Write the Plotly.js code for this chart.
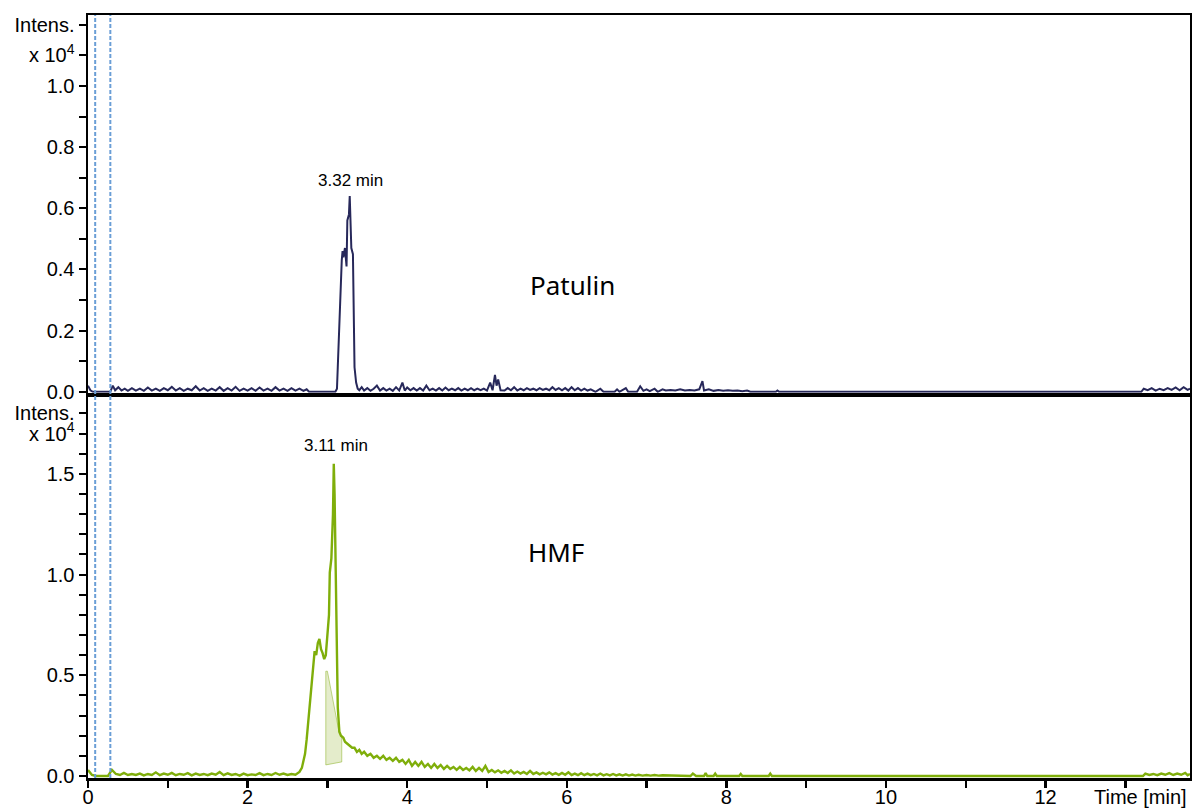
<!DOCTYPE html>
<html>
<head>
<meta charset="utf-8">
<script src="https://cdn.plot.ly/plotly-3.0.1.min.js"></script>
<style>html,body{margin:0;padding:0;background:#fff;}#chart{width:1192px;height:809px;}</style>
</head>
<body>
<div id="chart"></div>
<script>
// ---- Patulin trace (time [min], intensity x10^4) ----
const patulinBaseA = [[0,0.02],[0.03,0.005],[0.06,0],[0.28,0],[0.31,0.02],[0.34,0.005],[0.38,0.015],[0.42,0.004],[0.46,0.01],[0.5,0.003],[0.55,0.012],[0.6,0.004],[0.65,0.01],[0.7,0.003],[0.75,0.014],[0.8,0.004],[0.85,0.01],[0.9,0.003],[0.95,0.012],[1.0,0.005],[1.05,0.016],[1.1,0.004],[1.15,0.012],[1.2,0.003],[1.25,0.01],[1.3,0.005],[1.35,0.018],[1.4,0.004],[1.45,0.012],[1.5,0.003],[1.55,0.01],[1.6,0.004],[1.65,0.015],[1.7,0.003],[1.75,0.012],[1.8,0.004],[1.85,0.016],[1.9,0.003],[1.95,0.01],[2.0,0.004],[2.05,0.012],[2.1,0.003],[2.15,0.014],[2.2,0.004],[2.25,0.01],[2.3,0.003],[2.35,0.015],[2.4,0.004],[2.45,0.01],[2.5,0.003],[2.55,0.012],[2.6,0.004],[2.65,0.01],[2.7,0.003],[2.74,0.008],[2.77,0],[3.1,0]];
const patulinPeak = [[3.12,0.01],[3.13,0.08],[3.15,0.22],[3.16,0.32],[3.18,0.43],[3.19,0.46],[3.2,0.44],[3.22,0.47],[3.23,0.42],[3.24,0.41],[3.25,0.56],[3.27,0.58],[3.28,0.64],[3.29,0.58],[3.3,0.47],[3.32,0.45],[3.33,0.2],[3.34,0.08],[3.36,0.03],[3.38,0.01]];
const patulinBaseB = [[3.4,0.005],[3.43,0.015],[3.46,0.004],[3.5,0.012],[3.54,0.003],[3.58,0.01],[3.62,0.02],[3.66,0.004],[3.7,0.012],[3.74,0.004],[3.78,0.01],[3.82,0.003],[3.86,0.015],[3.9,0.004],[3.94,0.03],[3.97,0.004],[4.0,0.014],[4.04,0.005],[4.08,0.012],[4.12,0.004],[4.16,0.012],[4.2,0.004],[4.24,0.02],[4.28,0.005],[4.32,0.01],[4.36,0.004],[4.4,0.012],[4.44,0.004],[4.48,0.014],[4.52,0.005],[4.56,0.01],[4.6,0.005],[4.64,0.012],[4.68,0.004],[4.72,0.01],[4.76,0.005],[4.8,0.012],[4.84,0.005],[4.88,0.01],[4.92,0.005],[4.96,0.01],[5.0,0.004],[5.04,0.03],[5.07,0.005],[5.1,0.055],[5.12,0.02],[5.14,0.04],[5.17,0.005],[5.22,0.004],[5.26,0.012],[5.3,0.005],[5.34,0.015],[5.38,0.004],[5.42,0.01],[5.46,0.005],[5.5,0.012],[5.54,0.006],[5.58,0.01],[5.62,0.005],[5.66,0.012],[5.7,0.006],[5.74,0.01],[5.78,0.005],[5.82,0.015],[5.86,0.006],[5.9,0.012],[5.94,0.005],[5.98,0.012],[6.02,0.004],[6.06,0.015],[6.1,0.005],[6.14,0.012],[6.18,0.004],[6.22,0.01],[6.26,0.004],[6.3,0.008],[6.36,0],[6.42,0.01],[6.46,0],[6.6,0],[6.63,0.008],[6.66,0],[6.74,0.012],[6.77,0],[6.88,0],[6.92,0.018],[6.96,0.003],[7.0,0.008],[7.04,0.002],[7.1,0.01],[7.14,0],[7.2,0.008],[7.24,0.004],[7.3,0.006],[7.36,0.004],[7.42,0.008],[7.48,0.004],[7.54,0.006],[7.6,0.004],[7.66,0.008],[7.7,0.035],[7.72,0.004],[7.78,0.008],[7.84,0.003],[7.9,0.006],[7.96,0.003],[8.02,0.005],[8.08,0.003],[8.14,0.004],[8.2,0.002],[8.26,0.004],[8.3,0],[8.62,0],[8.64,0.004],[8.66,0],[13.2,0],[13.23,0.01],[13.28,0.005],[13.33,0.012],[13.38,0.004],[13.43,0.01],[13.48,0.005],[13.53,0.012],[13.58,0.006],[13.63,0.014],[13.68,0.005],[13.73,0.015],[13.78,0.006],[13.81,0.01]];

// ---- HMF trace (time [min], intensity x10^4) ----
const hmfBaseA = [[0,0.03],[0.05,0.005],[0.1,0],[0.25,0],[0.3,0.03],[0.35,0.01],[0.4,0.005],[0.45,0.015],[0.5,0.005],[0.55,0.01],[0.6,0.005],[0.65,0.012],[0.7,0.003],[0.75,0.01],[0.8,0.005],[0.85,0.018],[0.9,0.004],[0.95,0.012],[1.0,0.006],[1.05,0.015],[1.1,0.004],[1.15,0.01],[1.2,0.006],[1.25,0.014],[1.3,0.003],[1.35,0.012],[1.4,0.005],[1.45,0.01],[1.5,0.004],[1.55,0.012],[1.6,0.006],[1.65,0.02],[1.7,0.004],[1.75,0.013],[1.8,0.005],[1.85,0.01],[1.9,0.002],[1.95,0.012],[2.0,0.004],[2.05,0.008],[2.1,0.005],[2.15,0.014],[2.2,0.004],[2.25,0.01],[2.3,0.005],[2.35,0.015],[2.4,0.006],[2.45,0.012],[2.5,0.005],[2.55,0.01],[2.6,0.006]];
const hmfPeak = [[2.62,0.01],[2.65,0.02],[2.68,0.04],[2.7,0.07],[2.72,0.11],[2.74,0.18],[2.76,0.27],[2.78,0.37],[2.8,0.48],[2.82,0.57],[2.84,0.62],[2.86,0.6],[2.88,0.66],[2.9,0.68],[2.92,0.63],[2.94,0.61],[2.96,0.58],[2.98,0.6],[3.0,0.7],[3.02,0.8],[3.03,1.01],[3.05,1.08],[3.07,1.3],[3.08,1.55],[3.09,1.4],[3.1,1.08],[3.12,0.7],[3.13,0.34],[3.15,0.22],[3.17,0.2],[3.2,0.19],[3.22,0.17],[3.25,0.16],[3.28,0.15]];
const hmfTail = [[3.31,0.14],[3.34,0.14],[3.37,0.12],[3.4,0.13],[3.43,0.11],[3.46,0.12],[3.5,0.1],[3.54,0.11],[3.58,0.09],[3.62,0.1],[3.66,0.085],[3.7,0.1],[3.74,0.08],[3.78,0.09],[3.82,0.075],[3.86,0.09],[3.9,0.07],[3.94,0.08],[3.98,0.06],[4.02,0.08],[4.06,0.05],[4.1,0.07],[4.14,0.05],[4.18,0.07],[4.22,0.045],[4.26,0.06],[4.3,0.04],[4.34,0.06],[4.38,0.04],[4.42,0.055],[4.46,0.035],[4.5,0.05],[4.54,0.035],[4.58,0.045],[4.62,0.03],[4.66,0.045],[4.7,0.03],[4.74,0.04],[4.78,0.028],[4.82,0.045],[4.86,0.025],[4.9,0.04],[4.94,0.025],[4.98,0.05],[5.02,0.02],[5.06,0.03],[5.1,0.018],[5.14,0.028],[5.18,0.016],[5.22,0.025],[5.26,0.015],[5.3,0.028],[5.34,0.012],[5.38,0.022],[5.42,0.012],[5.46,0.02],[5.5,0.01],[5.54,0.025],[5.58,0.01],[5.62,0.018],[5.66,0.008],[5.7,0.016],[5.74,0.008],[5.78,0.018],[5.82,0.007],[5.86,0.014],[5.9,0.006],[5.94,0.015],[5.98,0.006],[6.02,0.018],[6.06,0.005],[6.1,0.012],[6.14,0.004],[6.18,0.014],[6.22,0.004],[6.26,0.012],[6.3,0.004],[6.34,0.01],[6.38,0.003],[6.42,0.012],[6.46,0.003],[6.5,0.009],[6.54,0.003],[6.58,0.01],[6.62,0.003],[6.66,0.008],[6.7,0.002],[6.74,0.008],[6.78,0.002],[6.82,0.007],[6.86,0.002],[6.9,0.006],[6.95,0.002],[7.0,0.005],[7.05,0.002],[7.1,0.005],[7.15,0.002],[7.2,0.004],[7.3,0.002],[7.4,0.002],[7.45,0],[7.55,0],[7.58,0.012],[7.62,0],[7.72,0],[7.74,0.015],[7.76,0],[7.84,0],[7.86,0.012],[7.88,0],[8.16,0],[8.18,0.01],[8.2,0],[8.53,0],[8.55,0.012],[8.57,0],[13.22,0],[13.25,0.012],[13.3,0.005],[13.35,0.01],[13.4,0.004],[13.45,0.012],[13.5,0.006],[13.55,0.014],[13.6,0.005],[13.65,0.012],[13.7,0.006],[13.75,0.015],[13.78,0.004],[13.81,0.01]];
// integrated region under the HMF peak (light shaded area)
const hmfIntegration = [[2.98,0.055],[2.98,0.52],[3.0,0.52],[3.15,0.21],[3.18,0.2],[3.18,0.07],[2.98,0.055]];

// ---- labels / ticks ----
const peakLabels = [{text:'3.32 min', t:3.29, i:0.69, panel:'top'},{text:'3.11 min', t:3.11, i:1.64, panel:'bottom'}];
const compoundLabels = [{text:'Patulin', t:6.07, i:0.35, panel:'top'},{text:'HMF', t:5.87, i:1.11, panel:'bottom'}];
const xTickVals = [0,1,2,3,4,5,6,7,8,9,10,11,12,13];
const xTickText = ['0','','2','','4','','6','','8','','10','','12',''];
const topTickVals = [0,0.1,0.2,0.3,0.4,0.5,0.6,0.7,0.8,0.9,1.0,1.1,1.2];
const topTickText = ['0.0','','0.2','','0.4','','0.6','','0.8','','1.0','x 10<sup>4</sup>','Intens.'];
const botTickVals = [0,0.1,0.2,0.3,0.4,0.5,0.6,0.7,0.8,0.9,1.0,1.1,1.2,1.3,1.4,1.5,1.6,1.7,1.8];
const botTickText = ['0.0','','','','','0.5','','','','','1.0','','','','','1.5','','x 10<sup>4</sup>','Intens.'];
const markerTimes = [0.09, 0.28];

const xs = a => a.map(p => p[0]);
const ys = a => a.map(p => p[1]);
const pat = patulinBaseA.concat(patulinPeak, patulinBaseB);
const hmf = hmfBaseA.concat(hmfPeak, hmfTail);

const navy = '#27285a';
const green = '#7fae0a';

const traces = [
  {x: xs(hmfIntegration), y: ys(hmfIntegration), xaxis:'x', yaxis:'y', mode:'lines', fill:'toself',
   fillcolor:'rgba(205,220,160,0.55)', line:{color:'rgba(150,185,60,0.6)', width:1}, hoverinfo:'skip'},
  {x: xs(hmf), y: ys(hmf), xaxis:'x', yaxis:'y', mode:'lines', line:{color:green, width:2.4}},
  {x: xs(pat), y: ys(pat), xaxis:'x2', yaxis:'y2', mode:'lines', line:{color:navy, width:2}}
];

const tickFont = {family:'Liberation Sans, Arial, sans-serif', size:20, color:'#000'};
const annotations = [];
peakLabels.forEach(l => annotations.push({text:l.text, x:l.t, y:l.i, xref: l.panel==='top'?'x2':'x', yref: l.panel==='top'?'y2':'y',
  showarrow:false, font:{family:'Liberation Sans, Arial, sans-serif', size:17, color:'#000'}}));
compoundLabels.forEach(l => annotations.push({text:l.text, x:l.t, y:l.i, xref: l.panel==='top'?'x2':'x', yref: l.panel==='top'?'y2':'y',
  showarrow:false, font:{family:'Noto Sans, sans-serif', size:26, color:'#000'}}));
annotations.push({text:'Time [min]', xref:'paper', yref:'paper', x:0.955, xanchor:'center', y:0, yanchor:'top', yshift:-6, showarrow:false, font:tickFont});

const shapes = markerTimes.map(t => ({type:'line', xref:'x', yref:'paper', x0:t, x1:t, y0:0, y1:1,
  line:{color:'#6a9ed6', width:2, dash:'4px,2px'}, layer:'above'}));

const layout = {
  width:1192, height:809,
  margin:{l:88, r:2, t:15, b:31},
  paper_bgcolor:'#fff', plot_bgcolor:'#fff',
  showlegend:false,
  xaxis:{domain:[0,1], range:[0,13.81], anchor:'y', tickvals:xTickVals, ticktext:xTickText, ticks:'outside', ticklen:7, tickwidth:2.5, tickcolor:'#000',
    ticklabelstandoff:-8,
    showline:true, linewidth:3, linecolor:'#000', mirror:true, showgrid:false, zeroline:false, tickfont:tickFont},
  yaxis:{domain:[0,0.499], range:[-0.01,1.88], anchor:'x', tickvals:botTickVals, ticktext:botTickText, ticks:'outside', ticklen:7, tickwidth:2, tickcolor:'#000',
    showline:true, linewidth:2.5, linecolor:'#000', mirror:true, showgrid:false, zeroline:false, tickfont:tickFont},
  xaxis2:{domain:[0,1], range:[0,13.81], anchor:'y2', matches:'x', showticklabels:false, ticks:'',
    showline:true, linewidth:2.5, linecolor:'#000', mirror:true, showgrid:false, zeroline:false},
  yaxis2:{domain:[0.505,1], range:[-0.003,1.232], anchor:'x2', tickvals:topTickVals, ticktext:topTickText, ticks:'outside', ticklen:7, tickwidth:2, tickcolor:'#000',
    showline:true, linewidth:2.5, linecolor:'#000', mirror:true, showgrid:false, zeroline:false, tickfont:tickFont},
  annotations: annotations,
  shapes: shapes
};

Plotly.newPlot('chart', traces, layout, {displayModeBar:false, staticPlot:true});
</script>
</body>
</html>
